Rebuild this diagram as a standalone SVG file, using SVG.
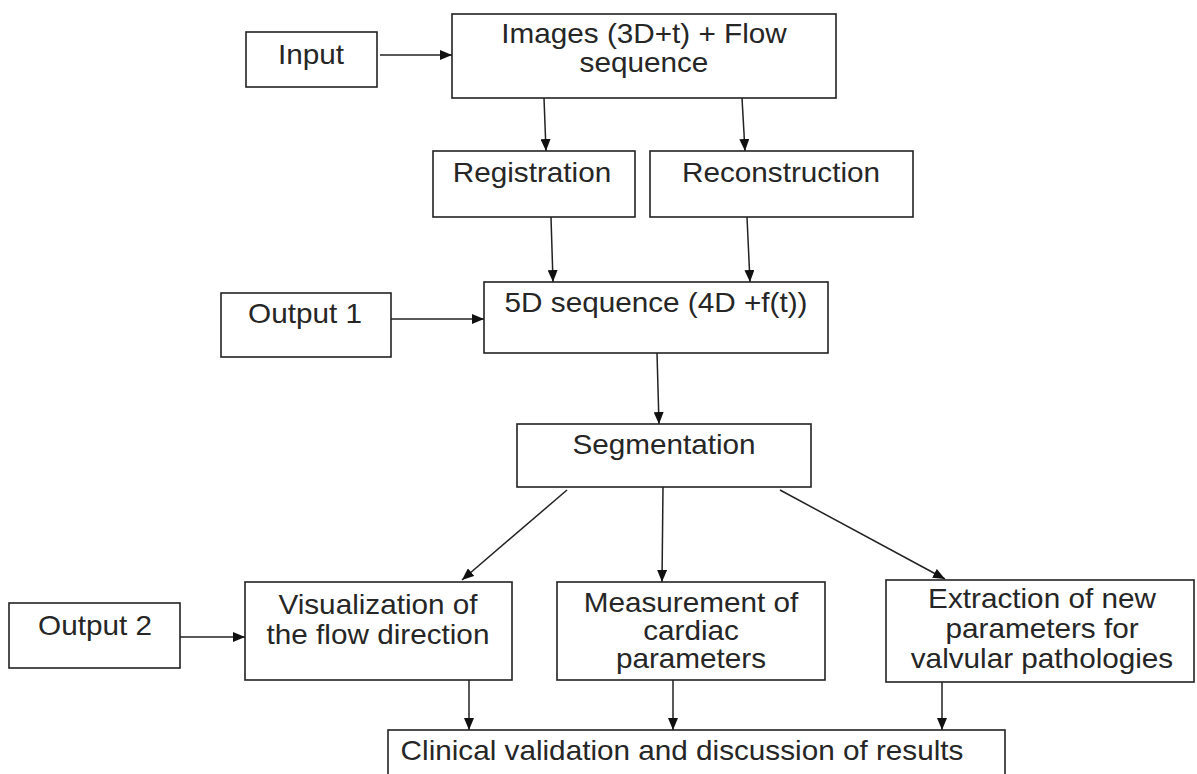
<svg xmlns="http://www.w3.org/2000/svg" width="1197" height="774" viewBox="0 0 1197 774">
<style>
.box{fill:#fff;stroke:#222;stroke-width:1.6}
.t{font-family:"Liberation Sans",Arial,sans-serif;font-size:27px;fill:#262626;text-anchor:middle}
.c{stroke:#222;stroke-width:1.5;fill:none;marker-end:url(#ah)}
</style>
<defs>
<marker id="ah" markerUnits="userSpaceOnUse" markerWidth="12" markerHeight="10" refX="12" refY="5" orient="auto">
<path d="M0,0 L12,5 L0,10 z" fill="#111"/>
</marker>
</defs>
<rect width="1197" height="774" fill="#fff"/>
<g id="connectors">
<line class="c" x1="380" y1="55" x2="452" y2="55"/>
<line class="c" x1="544" y1="98" x2="546" y2="151"/>
<line class="c" x1="742" y1="98" x2="745" y2="151"/>
<line class="c" x1="551" y1="217" x2="553" y2="282"/>
<line class="c" x1="747" y1="217" x2="750" y2="282"/>
<line class="c" x1="391" y1="319" x2="484" y2="319"/>
<line class="c" x1="657" y1="353" x2="659" y2="424"/>
<line class="c" x1="567" y1="490" x2="462" y2="580"/>
<line class="c" x1="663" y1="487" x2="662" y2="582"/>
<line class="c" x1="780" y1="490" x2="945" y2="579"/>
<line class="c" x1="180" y1="637" x2="245" y2="637"/>
<line class="c" x1="469" y1="680" x2="469" y2="730"/>
<line class="c" x1="673" y1="680" x2="673" y2="730"/>
<line class="c" x1="942" y1="682" x2="942" y2="730"/>
</g>
<g id="input"><rect class="box" x="246" y="32" width="131" height="55"/><text class="t" transform="translate(311,64) scale(1.1,1)">Input</text></g>
<g id="images"><rect class="box" x="452" y="14" width="384" height="84"/><text class="t" transform="translate(644,43) scale(1.1,1)">Images (3D+t) + Flow</text><text class="t" transform="translate(644,72) scale(1.1,1)">sequence</text></g>
<g id="registration"><rect class="box" x="433" y="151" width="202" height="66"/><text class="t" transform="translate(532,182) scale(1.1,1)">Registration</text></g>
<g id="reconstruction"><rect class="box" x="650" y="151" width="263" height="66"/><text class="t" transform="translate(781,182) scale(1.1,1)">Reconstruction</text></g>
<g id="output1"><rect class="box" x="221" y="293" width="170" height="64"/><text class="t" transform="translate(305,323) scale(1.1,1)">Output 1</text></g>
<g id="sequence5d"><rect class="box" x="484" y="282" width="344" height="71"/><text class="t" transform="translate(656,312) scale(1.1,1)">5D sequence (4D +f(t))</text></g>
<g id="segmentation"><rect class="box" x="517" y="424" width="294" height="63"/><text class="t" transform="translate(664,454) scale(1.1,1)">Segmentation</text></g>
<g id="output2"><rect class="box" x="9" y="603" width="171" height="65"/><text class="t" transform="translate(95,635) scale(1.1,1)">Output 2</text></g>
<g id="visualization"><rect class="box" x="245" y="582" width="267" height="98"/><text class="t" transform="translate(378,614) scale(1.1,1)">Visualization of</text><text class="t" transform="translate(378,644) scale(1.1,1)">the flow direction</text></g>
<g id="measurement"><rect class="box" x="557" y="582" width="268" height="98"/><text class="t" transform="translate(691,612) scale(1.1,1)">Measurement of</text><text class="t" transform="translate(691,640) scale(1.1,1)">cardiac</text><text class="t" transform="translate(691,668) scale(1.1,1)">parameters</text></g>
<g id="extraction"><rect class="box" x="886" y="580" width="308" height="102"/><text class="t" transform="translate(1042,608) scale(1.1,1)">Extraction of new</text><text class="t" transform="translate(1042,638) scale(1.1,1)">parameters for</text><text class="t" transform="translate(1042,668) scale(1.1,1)">valvular pathologies</text></g>
<g id="clinical"><rect class="box" x="388" y="730" width="617" height="60"/><text class="t" transform="translate(682,760) scale(1.1,1)">Clinical validation and discussion of results</text></g>
</svg>
